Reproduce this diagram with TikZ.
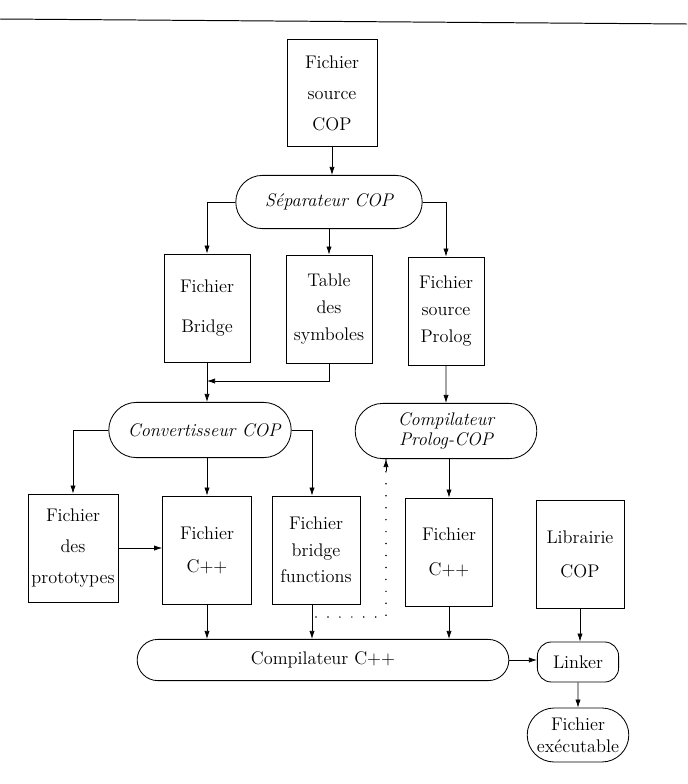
\documentclass[tikz,border=0pt]{standalone}
\usetikzlibrary{arrows.meta,shapes.misc}
\newcommand{\taille}{\fontsize{13}{19}\selectfont}
\tikzset{
  fichier/.style={draw, line width=0.6pt, align=center, minimum width=2.2cm, minimum height=2.7cm, inner sep=2pt},
  etape/.style={draw, line width=0.6pt, rounded rectangle, align=center, inner sep=2pt},
  fleche/.style={-{Latex[length=2mm,width=1.3mm]}, line width=0.5pt},
  pointille/.style={line width=1.2pt, line cap=round, dash pattern=on 0pt off 8.5pt},
}
\begin{document}
\begin{tikzpicture}[x=0.025cm, y=-0.025cm, font=\taille]
\useasboundingbox (0,0) rectangle (687,784);
\draw[line width=0.7pt] (0,19) -- (687,24);

% fichiers et etapes
\node[fichier, minimum width=2.25cm, minimum height=2.68cm] (srcCOP) at (332,93) {Fichier\\[3pt]source\\[3pt]COP};
\node[etape, font=\taille\itshape, minimum width=4.8cm, minimum height=1.33cm] (sep) at (329,202) {Séparateur COP};

\node[fichier, minimum width=2.15cm] (bridge) at (207,308) {Fichier\\[9.5pt]Bridge};
\node[fichier, minimum width=2.15cm] (table) at (329,309) {Table\\des\\symboles};
\node[fichier, minimum width=1.9cm] (prolog) at (446,311) {Fichier\\source\\Prolog};
\coordinate (jonc) at (207,381);

\node[etape, font=\taille\itshape, minimum width=4.7cm, minimum height=1.38cm] (conv) at (200,430) {\hspace{6pt}Convertisseur COP};
\node[etape, font=\itshape\fontsize{13}{14.5}\selectfont, minimum width=4.68cm, minimum height=1.38cm] (compP) at (446,431) {Compilateur\\Prolog-COP};

\node[fichier, minimum width=2.25cm] (proto) at (73,548) {Fichier\\[3pt]des\\[3pt]prototypes};
\node[fichier, minimum width=2.22cm] (cppA) at (207,550) {Fichier\\[4.5pt]C++};
\node[fichier, minimum width=2.2cm] (bfun) at (316,550) {Fichier\\bridge\\functions};
\node[fichier, minimum width=2.18cm] (cppB) at (449,552) {Fichier\\[6pt]C++};
\node[fichier, minimum width=2.2cm] (lib) at (580,554) {Librairie\\[5pt]COP};
\coordinate (dep) at (316,617);

\node[etape, minimum width=9.43cm, minimum height=1.03cm] (compC) at (323,660) {Compilateur C++};
\node[draw, line width=0.6pt, rounded corners=0.35cm, minimum width=2.03cm, minimum height=1cm] (linker) at (578,662) {Linker};
\node[etape, font=\fontsize{13}{16}\selectfont, minimum width=2.68cm, minimum height=1.35cm] (exe) at (578,735) {Fichier\\exécutable};

% connexions
\draw[fleche] (srcCOP.south) -- (srcCOP.south |- sep.north);
\draw[fleche] (sep.west) -| (bridge.north);
\draw[fleche] (sep.south -| table.north) -- (table.north);
\draw[fleche] (sep.east) -| (prolog.north);
\draw[fleche] (table.south) |- (jonc);
\draw[fleche] (bridge.south) -- (bridge.south |- conv.north);
\draw[fleche] (prolog) -- (compP);

\draw[fleche] (conv.west) -| (proto.north);
\draw[fleche] (cppA.north |- conv.south) -- (cppA.north);
\draw[fleche] (conv.east) -| ([xshift=-0.1cm]bfun.north);
\draw[fleche] (proto.east) -- (proto.east -| cppA.west);
\draw[fleche] (cppB.north |- compP.south) -- (cppB.north);

\draw[fleche] (cppA.south) -- (cppA.south |- compC.north);
\draw[fleche] ([xshift=-0.1cm]bfun.south) -- ([xshift=-0.1cm]bfun.south |- compC.north);
\draw[fleche] (cppB.south) -- (cppB.south |- compC.north);
\draw[pointille] (dep) -| ([xshift=-1.5cm]compP.south);
\draw[fleche] ([xshift=-1.5cm,yshift=-0.3cm]compP.south) -- ([xshift=-1.5cm]compP.south);

\draw[fleche] (compC.east) -- (compC.east -| linker.west);
\draw[fleche] (lib.south) -- (lib.south |- linker.north);
\draw[fleche] (linker) -- (exe);
\end{tikzpicture}
\end{document}
